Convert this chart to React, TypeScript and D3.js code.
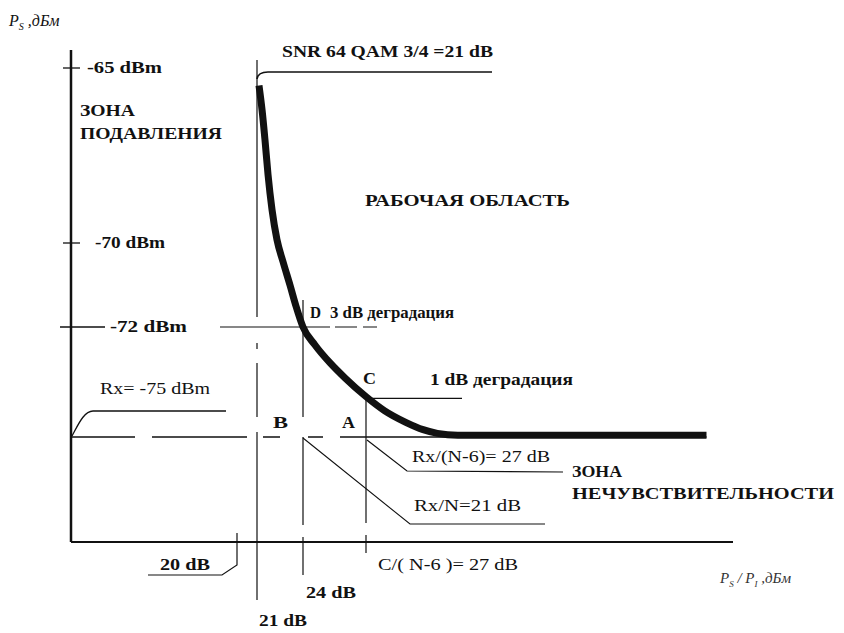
import React, { useRef, useEffect } from 'react';
import * as d3 from 'd3';

// SNR marks on the horizontal axis (dB)
const snrTicks = [20, 21, 24, 27];
const snrTickLabels = ['20 dB', '21 dB', '24 dB', 'C/( N-6 )= 27 dB'];

// signal level marks on the vertical axis (dBm)
const levelTicks = [-65, -70, -72];
const levelTickLabels = ['-65 dBm', '-70 dBm', '-72 dBm'];
const rxLevel = -75;

// degradation curve
const curveSnr = [21.13, 21.33, 21.52, 21.72, 21.98, 22.3, 22.7, 23.15, 23.54, 24, 24.57, 25.29, 26, 27, 27.9, 28.95, 29.8, 30.5, 31.5, 43.7];
const curvePs = [-65.5, -66.2, -67.05, -68.05, -69.05, -69.9, -70.45, -71, -71.5, -72, -72.49, -72.98, -73.39, -73.9, -74.28, -74.6, -74.8, -74.9, -74.95, -74.95];

const ink = '#111';
const serif = '"Liberation Serif", "DejaVu Serif", serif';

const App = () => {
  const svgRef = useRef(null);

  useEffect(() => {
    const svg = d3.select(svgRef.current);
    svg.selectAll('*').remove();

    // the sketch is schematic, so both scales are piecewise
    const x = d3.scaleLinear().domain([12, 20, 21, 24, 27, 45]).range([71, 237, 257, 303, 366, 733]);
    const y = d3.scaleLinear().domain([-78, -75, -72, -70, -65, -64.5]).range([542, 437, 327, 243, 68, 50]);

    const x0 = x(12);
    const y0 = y(-78);

    const seg = (x1, y1, x2, y2, w = 1.2, dash = null) => {
      const l = svg.append('line')
        .attr('x1', x1).attr('y1', y1).attr('x2', x2).attr('y2', y2)
        .attr('stroke', ink).attr('stroke-width', w);
      if (dash) l.attr('stroke-dasharray', dash);
      return l;
    };
    const path = (d, w = 1.2) => svg.append('path').attr('d', d)
      .attr('fill', 'none').attr('stroke', ink).attr('stroke-width', w);

    const label = (str, tx, ty, opts: any = {}) => {
      const t = svg.append('text')
        .attr('x', tx).attr('y', ty)
        .attr('font-family', serif)
        .attr('font-size', opts.size ?? 16)
        .attr('font-weight', opts.weight ?? 'bold')
        .attr('fill', ink)
        .text(str);
      if (opts.len) t.attr('textLength', opts.len).attr('lengthAdjust', 'spacingAndGlyphs');
      return t;
    };

    // axes
    seg(x0, y(-64.5), x0, y0, 2.5);
    seg(x0, y0, x(45), y0, 2);

    // vertical level ticks and labels
    seg(x0 - 8, y(levelTicks[0]), x0 + 9, y(levelTicks[0]), 1.3);
    seg(x0 - 8, y(levelTicks[1]), x0 + 9, y(levelTicks[1]), 1.3);
    seg(x0 - 11, y(levelTicks[2]), x0 + 34, y(levelTicks[2]), 1.3);
    label(levelTickLabels[0], x0 + 16, y(levelTicks[0]) + 5, { len: 75 });
    label(levelTickLabels[1], x0 + 24, y(levelTicks[1]) + 5, { len: 70 });
    label(levelTickLabels[2], x0 + 39, y(levelTicks[2]) + 5, { len: 77 });

    // receiver sensitivity line (-75 dBm)
    seg(x0, y(rxLevel), x(43.7), y(rxLevel), 1.4, '64 17 95 16 17 28 15 17 2000');
    path(`M${x0 + 1},${y(rxLevel) - 1} C${x0 + 7},${y(rxLevel) - 12} ${x0 + 13},${y(rxLevel) - 26} ${x0 + 22},${y(rxLevel) - 26} L${x0 + 155},${y(rxLevel) - 26}`, 1.3);
    label('Rx= -75 dBm', x0 + 29, y(rxLevel) - 43, { weight: 'normal', size: 17, len: 110 });

    // 21 dB line (SNR threshold)
    seg(x(21), y(-65) - 8, x(21), y0 + 58, 1.2, '257 26 6 14 54 15 2000');
    path(`M${x(21)},${y(-65) + 11} Q${x(21) + 1},${y(-65) + 4} ${x(21) + 11},${y(-65) + 4} L${x(21) + 235},${y(-65) + 4}`, 1.6);
    label('SNR 64 QAM 3/4 =21 dB', x(21) + 25, y(-65) - 11, { len: 211 });

    // point D: 24 dB, -72 dBm
    seg(x(24), y(-72) - 27, x(24), y0 - 17, 1.2, '117 20 2000');
    seg(x(24), y0 - 5, x(24), y0 + 33, 1.2);
    seg(x(24) - 83, y(-72), x(24) + 74, y(-72), 1.2, '110 5 22 6 2000');
    label('D', x(24) + 7, y(-72) - 9, { len: 11 });
    label('3 dB деградация', x(24) + 27, y(-72) - 9, { len: 124 });

    // point C: 27 dB, -74 dBm
    seg(x(27), y(-74) - 2, x(27), y0 - 19, 1.2);
    seg(x(27), y0 - 7, x(27), y0 + 11, 1.2);
    seg(x(27), y(-74) - 2, x(27) + 96, y(-74) - 2, 1.2);
    label('C', x(27) - 3, y(-74) - 16, { len: 13 });
    label('1 dB деградация', x(27) + 64, y(-74) - 15, { len: 143 });

    // points B and A on the sensitivity line
    label('B', x(24) - 30, y(rxLevel) - 9, { len: 15 });
    label('A', x(27) - 24, y(rxLevel) - 9, { len: 13 });

    // 20 dB mark with its callout
    path(`M${x(20)},${y0 - 9} L${x(20)},${y0 + 23} L${x(20) - 15},${y0 + 33} L${x(20) - 89},${y0 + 33}`, 1.2);
    label(snrTickLabels[0], x(20) - 77, y0 + 28, { len: 50 });
    label(snrTickLabels[1], x(21) + 2, y0 + 84, { len: 48 });
    label(snrTickLabels[2], x(24) + 3, y0 + 56, { len: 50 });
    label(snrTickLabels[3], x(27) + 12, y0 + 28, { weight: 'normal', size: 17, len: 140 });

    // callouts below the sensitivity line
    path(`M${x(27) + 1},${y(rxLevel) + 3} L${x(27) + 41},${y(rxLevel) + 34} L${x(27) + 197},${y(rxLevel) + 35}`, 1.2);
    label('Rx/(N-6)= 27 dB', x(27) + 46, y(rxLevel) + 25, { weight: 'normal', size: 17, len: 138 });
    path(`M${x(24)},${y(rxLevel) + 1} L${x(24) + 107},${y(rxLevel) + 87} L${x(24) + 242},${y(rxLevel) + 87}`, 1.1);
    label('Rx/N=21 dB', x(24) + 111, y(rxLevel) + 74, { weight: 'normal', size: 17, len: 107 });

    // zone captions
    label('ЗОНА', x0 + 9, 116, { len: 55 });
    label('ПОДАВЛЕНИЯ', x0 + 9, 139, { len: 142 });
    label('РАБОЧАЯ ОБЛАСТЬ', 365, 206, { len: 205 });
    label('ЗОНА', 572, 477, { len: 50 });
    label('НЕЧУВСТВИТЕЛЬНОСТИ', 572, 499, { len: 262 });

    // degradation curve
    const pts = curveSnr.map((s, i) => [s, curvePs[i]]);
    const curve = d3.line()
      .x(d => x(d[0]))
      .y(d => y(d[1]))
      .curve(d3.curveMonotoneX);
    svg.append('path')
      .attr('d', curve(pts))
      .attr('fill', 'none')
      .attr('stroke', ink)
      .attr('stroke-width', 7);

    // axis titles
    const yTitle = svg.append('text')
      .attr('x', 9).attr('y', 26)
      .attr('font-family', serif).attr('font-size', 16).attr('font-style', 'italic')
      .attr('fill', ink);
    yTitle.append('tspan').text('P');
    yTitle.append('tspan').attr('font-size', 10).attr('dy', 4).text('S');
    yTitle.append('tspan').attr('dy', -4).text(' ,дБм');

    const xTitle = svg.append('text')
      .attr('x', 720).attr('y', 583)
      .attr('font-family', serif).attr('font-size', 15).attr('font-style', 'italic')
      .attr('fill', '#333');
    xTitle.append('tspan').text('P');
    xTitle.append('tspan').attr('font-size', 9).attr('dy', 4).text('S');
    xTitle.append('tspan').attr('dy', -4).text(' / P');
    xTitle.append('tspan').attr('font-size', 9).attr('dy', 4).text('I');
    xTitle.append('tspan').attr('dy', -4).text(' ,дБм');
  }, []);

  return (
    <svg
      ref={svgRef}
      width={844}
      height={633}
      style={{ position: 'absolute', left: 0, top: 0, background: '#fff' }}
    />
  );
};

export default App;
